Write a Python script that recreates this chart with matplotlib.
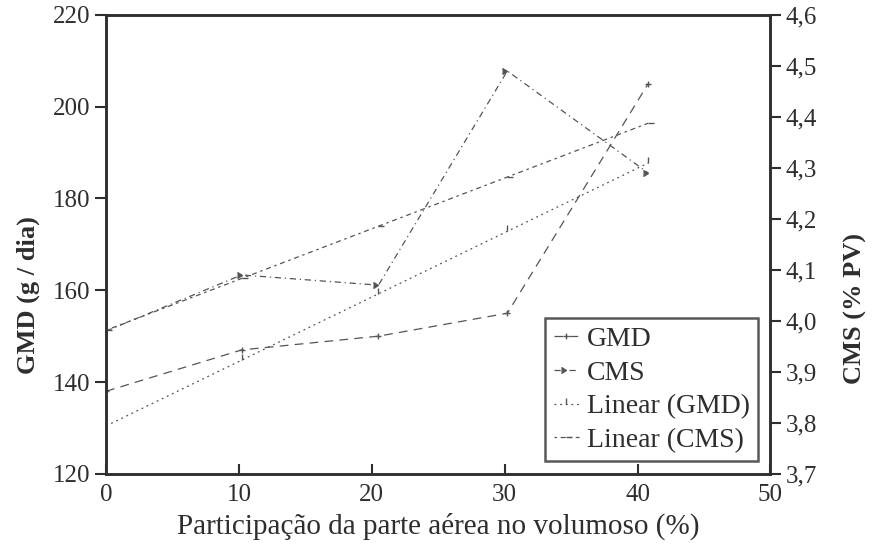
import numpy as np
import matplotlib.pyplot as plt

plt.rcParams['font.family'] = ['Liberation Serif', 'DejaVu Serif']

# participação da parte aérea (%)
participacao = [0, 10.2, 20.5, 30.2, 40.8]
# ganho médio diário (g/dia)
gmd = [138, 147, 150, 155, 205]
# consumo de matéria seca (% PV)
cms = [3.98, 4.09, 4.07, 4.49, 4.29]

x = np.array(participacao)
gmd_fit = np.polyval(np.polyfit(x, gmd, 1), x)
cms_fit = np.polyval(np.polyfit(x, cms, 1), x)

fig = plt.figure(figsize=(8.73, 5.51), dpi=100)
ax = fig.add_axes([0.1215, 0.140, 0.761, 0.833])
ax2 = ax.twinx()

cor = '#555555'
texto = '#2e2e2e'
l1, = ax.plot(x, gmd, color=cor, lw=0.9, dashes=(7, 5), marker='+', ms=5, mew=1.0)
l3, = ax.plot(x, gmd_fit, color=cor, lw=0.9, dashes=(1.5, 3), marker=2, ms=4)
l2, = ax2.plot(x, cms, color=cor, lw=0.9, dashes=(5, 3, 1, 3), marker=5, ms=5)
l4, = ax2.plot(x, cms_fit, color=cor, lw=0.9, dashes=(2, 3, 4, 3), marker=1, ms=4)

ax.set_xlim(0, 50)
ax.set_ylim(120, 220)
ax2.set_ylim(3.7, 4.6)
ax.set_xticks(range(0, 51, 10))
ax.set_yticks(range(120, 221, 20))
ax2.set_yticks(np.arange(3.7, 4.61, 0.1))
ax2.set_yticklabels([f'{v:.1f}'.replace('.', ',') for v in np.arange(3.7, 4.61, 0.1)])

for a in (ax, ax2):
    for s in a.spines.values():
        s.set_linewidth(1.8)
        s.set_color(texto)
ax.tick_params(axis='x', direction='in', length=7, width=1.5, labelsize=18, pad=7, colors=texto)
ax.tick_params(axis='y', direction='out', length=8, width=1.5, labelsize=18, pad=3, colors=texto)
ax2.tick_params(axis='y', direction='out', length=8, width=1.5, labelsize=18, pad=3, colors=texto)

ax.set_xlabel('Participação da parte aérea no volumoso (%)', fontsize=21, color=texto, labelpad=5)
ax.set_ylabel('GMD (g / dia)', fontsize=19, fontweight='bold', color=texto)
ax2.set_ylabel('CMS (% PV)', fontsize=19, fontweight='bold', color=texto)
ax.yaxis.set_label_coords(-0.1, 0.39)
ax2.yaxis.set_label_coords(1.11, 0.36)

leg = ax2.legend([l1, l2, l3, l4], ['GMD', 'CMS', 'Linear (GMD)', 'Linear (CMS)'],
                 loc='lower right', bbox_to_anchor=(0.99, 0.015), fontsize=20,
                 frameon=True, fancybox=False, handlelength=0.9, handletextpad=0.3,
                 borderpad=0.3, labelspacing=0.3, borderaxespad=0.2)
leg.get_frame().set_edgecolor(texto)
leg.get_frame().set_linewidth(1.8)
for t in leg.get_texts():
    t.set_color(texto)

fig.savefig('out.png', dpi=100)
